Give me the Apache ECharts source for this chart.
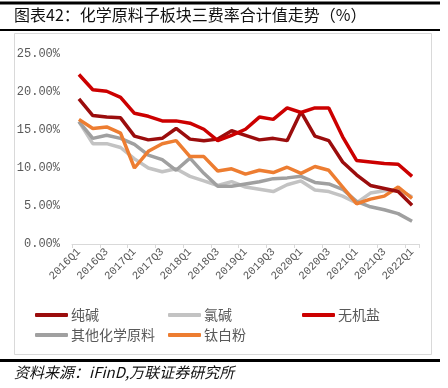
<!DOCTYPE html>
<html>
<head>
<meta charset="utf-8">
<script src="https://cdn.jsdelivr.net/npm/echarts@6/dist/echarts.min.js"></script>
<style>
html,body{margin:0;padding:0;background:#fff;}
#c{width:448px;height:388px;}
</style>
</head>
<body>
<div id="c"></div>
<script>
var categories = ['2016Q1','2016Q2','2016Q3','2016Q4','2017Q1','2017Q2','2017Q3','2017Q4','2018Q1','2018Q2','2018Q3','2018Q4','2019Q1','2019Q2','2019Q3','2019Q4','2020Q1','2020Q2','2020Q3','2020Q4','2021Q1','2021Q2','2021Q3','2021Q4','2022Q1'];
var chunJian = [19.1,16.9,16.7,16.6,14.2,13.7,13.9,15.2,13.8,13.6,13.8,14.9,14.3,13.7,13.9,13.6,17.4,14.2,13.6,10.8,9.1,7.7,7.3,6.9,5.1];
var lvJian = [16.1,13.2,13.2,12.7,11.2,10.0,9.5,9.9,8.9,8.3,7.7,8.2,7.5,7.2,6.9,7.8,8.3,7.1,6.9,6.3,5.4,6.7,7.0,7.1,6.2];
var wuJiYan = [22.3,20.3,20.1,19.3,17.2,16.8,16.2,16.2,15.9,15.1,13.6,14.3,15.1,16.7,16.4,17.9,17.3,17.9,17.9,14.1,11.0,10.8,10.6,10.5,8.9];
var qiTa = [16.1,13.9,14.3,13.9,13.1,11.7,11.1,9.7,11.3,9.3,7.6,7.6,7.9,8.2,8.6,8.7,8.9,8.1,7.9,7.2,5.6,4.9,4.5,4.0,3.0];
var taiBaiFen = [16.4,15.2,15.4,14.6,10.0,12.2,13.2,13.6,11.5,11.5,9.6,9.9,9.2,9.7,9.4,10.1,9.3,10.2,9.7,7.5,5.3,5.9,6.3,7.5,6.0];
var names = ['纯碱','氯碱','无机盐','其他化学原料','钛白粉'];
var colors = ['#9b0d0d','#c3c3c3','#cc0000','#a0a0a0','#ed7d31'];
var yTicks = ['0.00%','5.00%','10.00%','15.00%','20.00%','25.00%'];

var seriesData = [chunJian, lvJian, wuJiYan, qiTa, taiBaiFen];
var legendPos = [[30,303],[163,303],[297,303],[30,323],[163,323]];

var chart = echarts.init(document.getElementById('c'));
var series = names.map(function(n,i){
  return {
    name:n, type:'line', data:seriesData[i], symbol:'none',
    lineStyle:{color:colors[i], width:3.5}, itemStyle:{color:colors[i]}
  };
});
series[1].z = 2; series[3].z = 3; series[4].z = 4; series[0].z = 5; series[2].z = 6;

var legends = names.map(function(n,i){
  return {
    data:[n], left:legendPos[i][0], top:legendPos[i][1],
    icon:'roundRect', itemWidth:33, itemHeight:4, itemGap:4,
    textStyle:{fontFamily:'Noto Sans CJK SC', fontSize:14, color:'#595959', padding:[0,0,0,-2]},
    selectedMode:false
  };
});

chart.setOption({
  animation:false,
  backgroundColor:'#fff',
  grid:{left:72, right:29, top:54, bottom:144, containLabel:false},
  legend:legends,
  xAxis:{
    type:'category', data:categories, boundaryGap:true,
    axisLine:{lineStyle:{color:'#d9d9d9', width:1}},
    axisTick:{show:true, alignWithLabel:false, length:4, lineStyle:{color:'#d9d9d9'}},
    axisLabel:{interval:1, rotate:45, fontFamily:'Liberation Mono', fontSize:11, color:'#595959', margin:6}
  },
  yAxis:{
    type:'value', min:0, max:25, interval:5,
    axisLine:{show:false}, axisTick:{show:false}, splitLine:{show:false},
    axisLabel:{fontFamily:'Liberation Mono', fontSize:12, color:'#595959', margin:12,
      formatter:function(v){ return yTicks[Math.round(v/5)]; }}
  },
  series:series,
  graphic:[
    {type:'rect', shape:{x:0,y:1.5,width:440,height:3}, style:{fill:'#000'}, silent:true},
    {type:'text', left:14, top:7, style:{text:'图表42：化学原料子板块三费率合计值走势（%）', font:'16px "Noto Sans CJK SC"', fill:'#111'}},
    {type:'rect', shape:{x:0,y:29,width:440,height:2}, style:{fill:'#000'}, silent:true},
    {type:'rect', shape:{x:14.5,y:33.5,width:417,height:321}, style:{fill:'none', stroke:'#d9d9d9', lineWidth:1}, silent:true, z:-1},
    {type:'rect', shape:{x:0,y:359,width:440,height:3}, style:{fill:'#000'}, silent:true},
    {type:'text', left:14, top:365, style:{text:'资料来源：iFinD,万联证券研究所', font:'italic 15px "Noto Sans CJK SC"', fill:'#111'}}
  ]
});
</script>
</body>
</html>
